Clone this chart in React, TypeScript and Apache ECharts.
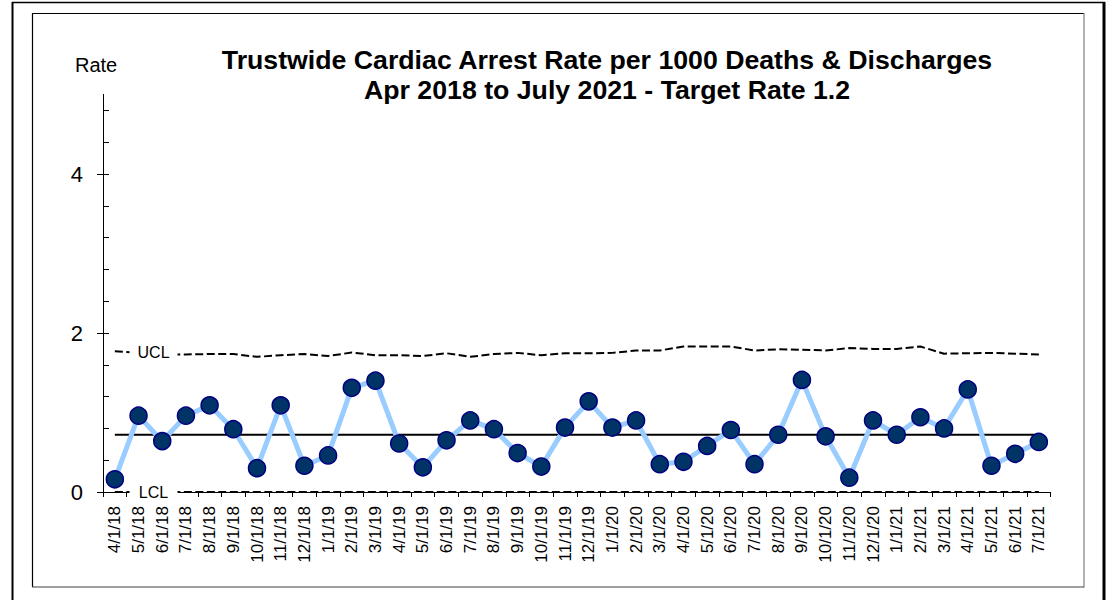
import React, { useEffect, useRef } from "react";
import * as echarts from "echarts";

const dates = [
  "4/1/18", "5/1/18", "6/1/18", "7/1/18", "8/1/18", "9/1/18", "10/1/18", "11/1/18", "12/1/18",
  "1/1/19", "2/1/19", "3/1/19", "4/1/19", "5/1/19", "6/1/19", "7/1/19", "8/1/19", "9/1/19", "10/1/19", "11/1/19", "12/1/19",
  "1/1/20", "2/1/20", "3/1/20", "4/1/20", "5/1/20", "6/1/20", "7/1/20", "8/1/20", "9/1/20", "10/1/20", "11/1/20", "12/1/20",
  "1/1/21", "2/1/21", "3/1/21", "4/1/21", "5/1/21", "6/1/21", "7/1/21",
];

const rates = [
  0.16, 0.96, 0.64, 0.96, 1.09, 0.79, 0.30, 1.09, 0.33, 0.46,
  1.31, 1.40, 0.61, 0.31, 0.65, 0.90, 0.79, 0.49, 0.32, 0.81,
  1.14, 0.81, 0.90, 0.35, 0.38, 0.58, 0.78, 0.35, 0.72, 1.41,
  0.70, 0.18, 0.90, 0.72, 0.94, 0.80, 1.29, 0.33, 0.48, 0.63,
];

const uclValues = [
  1.77, 1.75, 1.73, 1.73, 1.735, 1.735, 1.70, 1.72, 1.735, 1.71,
  1.755, 1.72, 1.72, 1.71, 1.745, 1.70, 1.735, 1.75, 1.72, 1.745,
  1.745, 1.75, 1.78, 1.78, 1.83, 1.83, 1.83, 1.78, 1.795, 1.79,
  1.78, 1.81, 1.80, 1.80, 1.83, 1.74, 1.745, 1.75, 1.74, 1.73,
];

const meanRate = 0.72;
const lclRate = 0;

const yMinorTicks = [0, 0.4, 0.8, 1.2, 1.6, 2, 2.4, 2.8, 3.2, 3.6, 4, 4.4, 4.8];
const yMajorTicks = [0, 2, 4];

const titleLines = [
  "Trustwide Cardiac Arrest Rate per 1000 Deaths & Discharges",
  "Apr 2018 to July 2021 - Target Rate 1.2",
];

const FONT = "'Liberation Sans', Arial, sans-serif";

export default function App() {
  const ref = useRef<HTMLDivElement>(null);

  useEffect(() => {
    if (!ref.current) return;
    const chart = echarts.init(ref.current, null, { renderer: "svg" });

    const labelBox = (text: string, value: number) => ({
      symbol: "rect",
      symbolSize: 1,
      silent: true,
      data: [
        {
          coord: [dates[1], value],
          symbol: "rect",
          symbolSize: [48, 18],
          symbolOffset: [15, 0],
          itemStyle: { color: "#ffffff", borderWidth: 0 },
          label: {
            show: true,
            position: "inside",
            formatter: text,
            color: "#000",
            fontSize: 16,
            fontFamily: FONT,
          },
        },
      ],
    });

    chart.setOption({
      animation: false,
      backgroundColor: "#ffffff",
      textStyle: { fontFamily: FONT },
      grid: { left: 103, top: 94.5, right: 59.3, bottom: 108, containLabel: false },
      graphic: [
        // outer frame
        { type: "line", shape: { x1: 12.5, y1: 2, x2: 12.5, y2: 600 }, style: { stroke: "#000", lineWidth: 2 } },
        { type: "line", shape: { x1: 12, y1: 2.5, x2: 1105, y2: 2.5 }, style: { stroke: "#000", lineWidth: 1.5 } },
        { type: "line", shape: { x1: 1104, y1: 2, x2: 1104, y2: 600 }, style: { stroke: "#000", lineWidth: 3 } },
        // inner frame
        { type: "line", shape: { x1: 32, y1: 13.5, x2: 1084, y2: 13.5 }, style: { stroke: "#000", lineWidth: 1.2 } },
        { type: "line", shape: { x1: 32.5, y1: 13, x2: 32.5, y2: 587 }, style: { stroke: "#000", lineWidth: 1.2 } },
        { type: "line", shape: { x1: 1084, y1: 13, x2: 1084, y2: 587.5 }, style: { stroke: "#808080", lineWidth: 1.2 } },
        { type: "line", shape: { x1: 32, y1: 587, x2: 1084, y2: 587 }, style: { stroke: "#404040", lineWidth: 1.2 } },
        {
          type: "text",
          x: 607,
          y: 45,
          style: {
            text: titleLines.join("\n"),
            textAlign: "center",
            textVerticalAlign: "top",
            font: `bold 26.7px ${FONT}`,
            lineHeight: 30,
            fill: "#000",
          },
        },
        {
          type: "text",
          x: 75,
          y: 55,
          style: {
            text: "Rate",
            textAlign: "left",
            textVerticalAlign: "top",
            font: `20px ${FONT}`,
            fill: "#000",
          },
        },
      ],
      xAxis: {
        type: "category",
        data: dates,
        boundaryGap: true,
        axisLine: { show: true, lineStyle: { color: "#000", width: 1 } },
        axisTick: { show: true, length: 5, lineStyle: { color: "#000", width: 1 } },
        axisLabel: {
          rotate: 90,
          interval: 0,
          fontSize: 17,
          color: "#000",
          margin: 14,
          fontFamily: FONT,
        },
        splitLine: { show: false },
      },
      yAxis: [
        {
          type: "value",
          min: 0,
          max: 5,
          position: "left",
          axisLine: { show: true, lineStyle: { color: "#000", width: 1 } },
          axisTick: {
            show: true,
            inside: true,
            length: 6,
            customValues: yMinorTicks,
            lineStyle: { color: "#000", width: 1 },
          },
          axisLabel: { show: false },
          splitLine: { show: false },
        },
        {
          type: "value",
          min: 0,
          max: 5,
          position: "left",
          axisLine: { show: true, lineStyle: { color: "#000", width: 1 } },
          axisTick: {
            show: true,
            inside: false,
            length: 6,
            customValues: yMajorTicks,
            lineStyle: { color: "#000", width: 1 },
          },
          axisLabel: {
            show: true,
            customValues: yMajorTicks,
            fontSize: 22,
            color: "#000",
            margin: 20,
            fontFamily: FONT,
          },
          splitLine: { show: false },
        },
      ],
      series: [
        {
          name: "UCL",
          type: "line",
          data: uclValues,
          symbol: "none",
          lineStyle: { color: "#000", width: 2, type: [8, 3.5] },
          z: 2,
          markPoint: labelBox("UCL", uclValues[1]),
        },
        {
          name: "LCL",
          type: "line",
          data: dates.map(() => lclRate),
          symbol: "none",
          lineStyle: { color: "#000", width: 2, type: [8, 3.5] },
          z: 2,
          markPoint: labelBox("LCL", lclRate),
        },
        {
          name: "Mean",
          type: "line",
          data: dates.map(() => meanRate),
          symbol: "none",
          lineStyle: { color: "#000", width: 2.2 },
          z: 3,
        },
        {
          name: "Rate",
          type: "line",
          data: rates,
          symbol: "circle",
          symbolSize: 17,
          showSymbol: true,
          lineStyle: { color: "#99CCFF", width: 5 },
          itemStyle: { color: "#003366", borderColor: "#000080", borderWidth: 1.5 },
          z: 4,
        },
      ],
    });

    return () => chart.dispose();
  }, []);

  return (
    <div
      ref={ref}
      style={{ position: "absolute", left: 0, top: 0, width: 1110, height: 600, background: "#fff" }}
    />
  );
}
